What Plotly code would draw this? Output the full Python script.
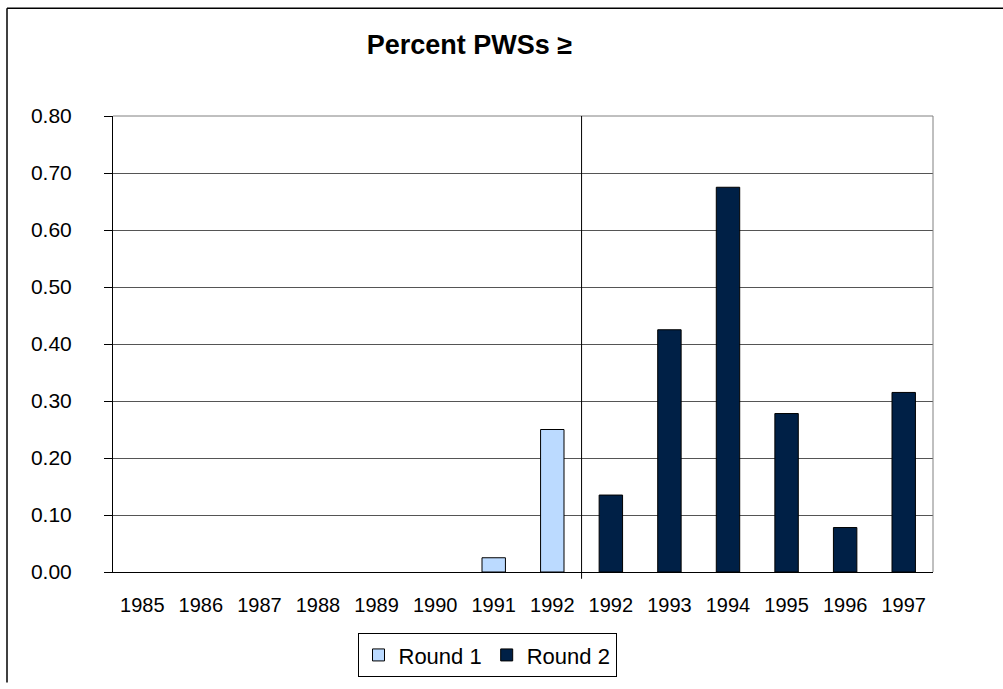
import plotly.graph_objects as go

categories = ["1985", "1986", "1987", "1988", "1989", "1990", "1991", "1992",
              "1992", "1993", "1994", "1995", "1996", "1997"]
round1 = [0, 0, 0, 0, 0, 0, 0.025, 0.25, None, None, None, None, None, None]
round2 = [None, None, None, None, None, None, None, None, 0.135, 0.425, 0.675, 0.278, 0.078, 0.315]
y_ticks = [0.0, 0.1, 0.2, 0.3, 0.4, 0.5, 0.6, 0.7, 0.8]

pos = list(range(len(categories)))
W, H = 1003, 689
L, R, T, B = 113, 70, 116, 103
pw, ph = W - L - R, H - T - B

def px(x):
    return (x - L) / pw

def py(y):
    return (H - B - y) / ph

FONT = "Liberation Sans, Arial, sans-serif"

def drawn(vals):
    # zero-height bars are invisible in the reference; leave them undrawn
    return [v if v else None for v in vals]

fig = go.Figure()
for name, vals, color in [("Round 1", round1, "#BBDAFF"), ("Round 2", round2, "#002046")]:
    fig.add_trace(go.Bar(x=pos, y=drawn(vals), name=name, width=0.40,
                         marker=dict(color=color, line=dict(color="#000000", width=1))))

fig.update_layout(
    width=W, height=H,
    margin=dict(l=L, r=R, t=T, b=B),
    paper_bgcolor="white", plot_bgcolor="white",
    barmode="overlay",
    font=dict(family=FONT, size=20, color="#000000"),
    title=dict(text="<b>Percent PWSs ≥</b>", x=469.5 / W, xanchor="center",
               y=1 - 45 / H, yanchor="middle", font=dict(size=27, family=FONT)),
    showlegend=True,
    legend=dict(orientation="h", x=px(487), xanchor="center", y=py(649), yanchor="top",
                bordercolor="#000000", borderwidth=1, bgcolor="white",
                font=dict(size=22, family=FONT), itemwidth=30,
                traceorder="normal", tracegroupgap=0),
)
fig.update_xaxes(
    range=[-0.5, len(categories) - 0.5],
    tickmode="array", tickvals=pos, ticktext=categories,
    showgrid=False, zeroline=False, showline=True, linecolor="#000000", linewidth=1,
    ticks="", ticklabelstandoff=15, tickfont=dict(size=20, family=FONT),
    layer="above traces",
)
fig.update_yaxes(
    range=[0, 0.8], tickmode="array", tickvals=y_ticks,
    tickformat=".2f", showgrid=True, gridcolor="#555555", gridwidth=1,
    zeroline=False, showline=True, linecolor="#000000", linewidth=1,
    ticks="outside", ticklen=8, tickcolor="#000000", ticklabelstandoff=28,
    tickfont=dict(size=21, family=FONT),
)

# plot area border (top and right)
fig.add_shape(type="line", xref="paper", yref="paper", x0=0, x1=1, y0=1, y1=1,
              line=dict(color="#808080", width=1))
fig.add_shape(type="line", xref="paper", yref="paper", x0=1, x1=1, y0=0, y1=1,
              line=dict(color="#808080", width=1))
# divider between rounds
fig.add_shape(type="line", xref="x", yref="paper", x0=7.5, x1=7.5, y0=py(593), y1=1,
              line=dict(color="#000000", width=1))
# outer chart frame
fig.add_shape(type="line", xref="paper", yref="paper", x0=px(7), x1=px(7), y0=py(5), y1=py(700),
              line=dict(color="#000000", width=1.5))
fig.add_shape(type="line", xref="paper", yref="paper", x0=px(7), x1=px(1010), y0=py(5), y1=py(5),
              line=dict(color="#000000", width=1.5))

post = (
    "var h=document.documentElement,b=document.body;"
    "h.style.margin='0';h.style.padding='0';h.style.overflow='hidden';"
    "b.style.margin='0';b.style.padding='0';b.style.overflow='hidden';"
)
fig.write_html("out.html", config={"displayModeBar": False}, post_script=post)
